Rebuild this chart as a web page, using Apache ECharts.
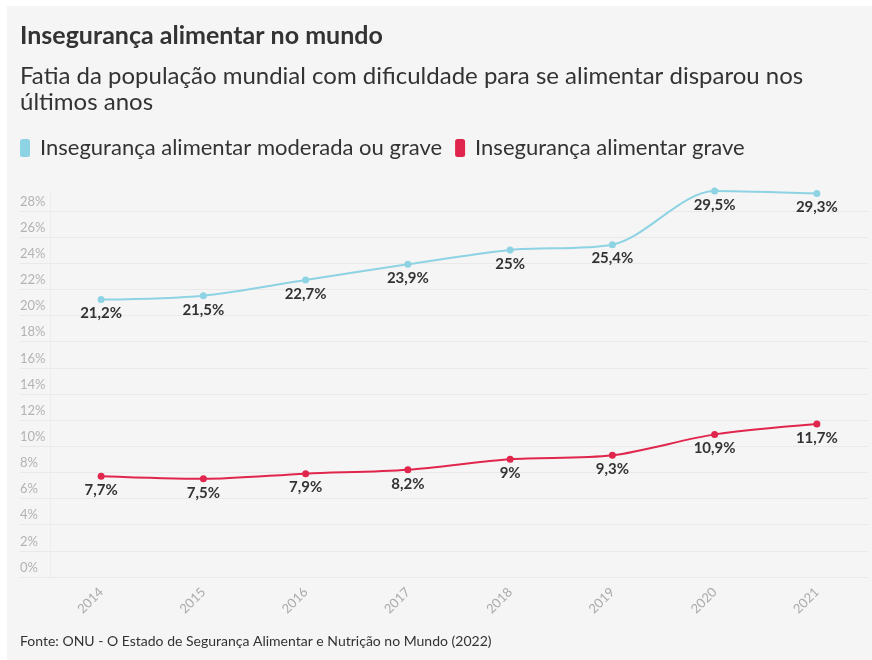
<!DOCTYPE html>
<html style="height: 100%">
<head>
    <meta charset="UTF-8">
    <title>Insegurança alimentar no mundo</title>
    <script src="https://cdn.jsdelivr.net/npm/echarts@6/dist/echarts.min.js"></script>
</head>
<body style="height: 100%; margin: 0; background: #fff">
    <div id="main" style="width: 872px; height: 660px"></div>
    <script type="text/javascript">
        // dados
        var anos = ['2014', '2015', '2016', '2017', '2018', '2019', '2020', '2021'];
        var moderadaOuGrave = [21.2, 21.5, 22.7, 23.9, 25, 25.4, 29.5, 29.3];
        var grave = [7.7, 7.5, 7.9, 8.2, 9, 9.3, 10.9, 11.7];
        var nomes = ['Insegurança alimentar moderada ou grave', 'Insegurança alimentar grave'];

        var fonte = 'Lato, "Noto Sans", sans-serif';
        var azul = '#8dd3e3';
        var vermelho = '#e0264c';

        function pct(v) {
            return String(v).replace('.', ',') + '%';
        }

        var myChart = echarts.init(document.getElementById('main'));

        var option = {
            textStyle: { fontFamily: fonte },
            graphic: [{
                type: 'rect',
                z: -10,
                shape: { x: 7, y: 6, width: 865, height: 654 },
                style: { fill: '#f5f5f5' }
            }],
            title: [{
                text: 'Insegurança alimentar no mundo',
                left: 20, top: 21, padding: 0,
                textStyle: { fontSize: 25, fontWeight: 'bold', color: '#333', lineHeight: 30 }
            }, {
                text: 'Fatia da população mundial com dificuldade para se alimentar disparou nos\núltimos anos',
                left: 20, top: 63, padding: 0,
                textStyle: { fontSize: 24, fontWeight: 'normal', color: '#333', lineHeight: 26 }
            }, {
                text: 'Fonte: ONU - O Estado de Segurança Alimentar e Nutrição no Mundo (2022)',
                left: 20, top: 632, padding: 0,
                textStyle: { fontSize: 14, fontWeight: 'normal', color: '#333', lineHeight: 18 }
            }],
            legend: {
                data: nomes,
                left: 20, top: 137, padding: 0,
                icon: 'roundRect',
                itemWidth: 10, itemHeight: 18, itemGap: 13,
                textStyle: { fontSize: 22, color: '#333', padding: [0, 0, 0, 5] }
            },
            grid: [
                { left: 20, right: 4, top: 211, bottom: 83 },
                { left: 50, right: 4, top: 191, bottom: 83 }
            ],
            xAxis: [{
                gridIndex: 0, type: 'category', data: anos, show: false
            }, {
                gridIndex: 1, type: 'category', data: anos, boundaryGap: true,
                axisLine: { show: false },
                axisTick: { alignWithLabel: true, length: 6, lineStyle: { color: '#e2e2e2' } },
                axisLabel: { rotate: 45, fontSize: 13, color: '#aaaaaa', margin: 13 }
            }],
            yAxis: [{
                gridIndex: 0, type: 'value', min: 0, max: 28, interval: 2,
                axisLine: { show: false }, axisTick: { show: false },
                splitLine: { lineStyle: { color: '#e9e9e9' } },
                axisLabel: {
                    inside: true, margin: 0, verticalAlign: 'bottom',
                    padding: [0, 0, 3, 0],
                    fontSize: 13, color: '#b3b3b3',
                    formatter: '{value}%'
                }
            }, {
                gridIndex: 1, type: 'value', min: 0, max: 29.5,
                axisLine: { show: true, lineStyle: { color: '#ececec' } },
                axisTick: { show: false }, axisLabel: { show: false },
                splitLine: { show: false }
            }],
            series: [{
                name: nomes[0], type: 'line', xAxisIndex: 1, yAxisIndex: 1,
                data: moderadaOuGrave,
                smooth: 0.3,
                symbol: 'circle', symbolSize: 7,
                itemStyle: { color: azul }, lineStyle: { color: azul, width: 2 },
                label: {
                    show: true, position: 'bottom', distance: 3,
                    fontSize: 15, fontWeight: 'bold', color: '#333',
                    formatter: function (p) { return pct(p.value); }
                }
            }, {
                name: nomes[1], type: 'line', xAxisIndex: 1, yAxisIndex: 1,
                data: grave,
                smooth: 0.3,
                symbol: 'circle', symbolSize: 7,
                itemStyle: { color: vermelho }, lineStyle: { color: vermelho, width: 2 },
                label: {
                    show: true, position: 'bottom', distance: 3,
                    fontSize: 15, fontWeight: 'bold', color: '#333',
                    formatter: function (p) { return pct(p.value); }
                }
            }]
        };

        myChart.setOption(option);
    </script>
</body>
</html>
